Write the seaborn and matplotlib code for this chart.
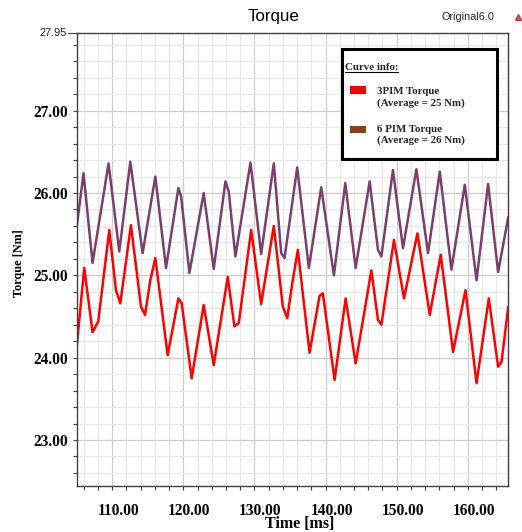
import numpy as np
import matplotlib
matplotlib.use("Agg")
import matplotlib.pyplot as plt
import matplotlib.transforms as mtransforms
from matplotlib.patches import Rectangle
from matplotlib.lines import Line2D
from matplotlib.ticker import MultipleLocator
import seaborn as sns

# --- data -----------------------------------------------------------------
time_3pim = [105.0, 106.06, 107.23, 108.03, 109.58, 110.52, 111.13, 112.63, 114.04,
             114.61, 115.35, 116.06, 117.79, 119.30, 119.76, 121.17, 122.86, 124.27,
             126.24, 127.18, 127.79, 129.54, 130.94, 132.72, 133.99, 134.61, 135.31,
             136.10, 137.75, 139.15, 139.62, 141.27, 142.82, 144.23, 146.44, 147.37,
             147.85, 149.62, 151.03, 152.92, 154.65, 156.20, 157.93, 159.68, 161.23,
             162.96, 164.27, 164.75, 165.7]
torque_3pim = [24.13, 25.09, 24.31, 24.44, 25.55, 24.82, 24.66, 25.61, 24.62,
               24.52, 24.94, 25.21, 24.03, 24.72, 24.66, 23.75, 24.64, 23.91,
               24.98, 24.38, 24.42, 25.55, 24.65, 25.60, 24.62, 24.48, 24.90,
               25.31, 24.06, 24.75, 24.78, 23.73, 24.72, 23.93, 25.06, 24.46,
               24.40, 25.43, 24.72, 25.51, 24.52, 25.25, 24.07, 24.82, 23.69,
               24.72, 23.89, 23.95, 24.62]

time_6pim = [105.0, 105.96, 107.23, 109.48, 110.99, 112.54, 114.27, 116.06, 117.56,
             119.30, 119.68, 120.85, 122.86, 124.27, 125.92, 126.38, 127.32, 129.44,
             130.94, 132.72, 133.76, 134.23, 136.01, 137.65, 139.39, 141.17, 142.77,
             144.23, 146.20, 147.37, 147.85, 149.48, 150.89, 152.77, 154.41, 156.06,
             157.70, 159.58, 161.23, 162.86, 164.27, 165.7]
torque_6pim = [25.59, 26.24, 25.15, 26.36, 25.29, 26.38, 25.27, 26.20, 25.09,
               26.06, 25.96, 25.03, 26.00, 25.08, 26.14, 26.02, 25.23, 26.37,
               25.26, 26.36, 25.27, 25.21, 26.31, 25.09, 26.07, 25.00, 26.12,
               25.09, 26.14, 25.31, 25.23, 26.28, 25.33, 26.29, 25.27, 26.26,
               25.07, 26.10, 24.94, 26.11, 25.04, 25.71]

x_ticks = [110, 120, 130, 140, 150, 160]
x_tick_labels = ["110.00", "120.00", "130.00", "140.00", "150.00", "160.00"]
y_ticks = [23, 24, 25, 26, 27]
y_tick_labels = ["23.00", "24.00", "25.00", "26.00", "27.00"]
y_top = 27.95
y_top_label = "27.95"

curve_names = ["3PIM Torque", "6 PIM Torque"]
curve_notes = ["(Average = 25 Nm)", "(Average = 26 Nm)"]

# --- style ----------------------------------------------------------------
sns.set_theme(style="white")
plt.rcParams["font.family"] = ["Liberation Serif", "DejaVu Serif"]

RED = "#FF0000"
PLUM = "#7B3F6E"
BROWN = "#8B3E17"
SPINE = "#404040"

W, H = 522, 532
fig = plt.figure(figsize=(W / 100, H / 100), dpi=100)


def fx(px):
    return px / W


def fy(py):
    return 1 - py / H


ax_l, ax_r, ax_t, ax_b = 76.7, 508.3, 32.5, 485.7
ax = fig.add_axes([fx(ax_l), fy(ax_b), (ax_r - ax_l) / W, (ax_b - ax_t) / H])

line_kw = dict(lw=1.8, ax=ax, sort=False, estimator=None, legend=False,
               solid_joinstyle="round", solid_capstyle="round")
sns.lineplot(x=time_3pim, y=torque_3pim, color=RED, **line_kw)
sns.lineplot(x=time_6pim, y=torque_6pim, color=PLUM, **line_kw)

ax.set_xlim(105.0, 165.7)
ax.set_ylim(22.445, y_top)

ax.set_xticks(x_ticks)
ax.set_xticklabels(x_tick_labels)
ax.set_yticks(y_ticks)
ax.set_yticklabels(y_tick_labels)
ax.xaxis.set_minor_locator(MultipleLocator(2))
ax.yaxis.set_minor_locator(MultipleLocator(0.2))

ax.grid(which="minor", color="#E8E8E8", lw=0.8)
ax.grid(which="major", color="#CDCDCD", lw=0.9)
ax.set_axisbelow(True)

for s in ax.spines.values():
    s.set_color(SPINE)
    s.set_linewidth(1.0)

ax.tick_params(which="both", bottom=True, left=True, top=False, right=False,
               direction="out", length=2.6, width=0.8, color=SPINE)
ax.tick_params(axis="x", which="major", pad=9.5, labelsize=11.2)
ax.tick_params(axis="y", which="major", pad=3.9, labelsize=11.2)
for lbl in ax.get_xticklabels() + ax.get_yticklabels():
    lbl.set_fontweight("bold")
    lbl.set_color("black")

shift = mtransforms.ScaledTranslation(6 / 100, 0, fig.dpi_scale_trans)
for lbl in ax.get_xticklabels():
    lbl.set_transform(lbl.get_transform() + shift)

# top-of-range marker label
ytr = ax.get_yaxis_transform()
ax.add_line(Line2D([(68 - ax_l) / (ax_r - ax_l), 0], [y_top, y_top], transform=ytr,
                   color=SPINE, lw=0.8, clip_on=False))
ax.text((66.7 - ax_l) / (ax_r - ax_l), y_top, y_top_label, transform=ytr,
        ha="right", va="center", fontsize=7.9, family="Liberation Sans", color="#222222")

# axis labels
ax.set_xlabel("Time [ms]", fontsize=11.5, fontweight="bold", color="black")
ax.xaxis.label.set_va("center")
ax.xaxis.set_label_coords((300 - ax_l) / (ax_r - ax_l), (ax_b - 524) / (ax_b - ax_t))
ax.set_ylabel("Torque [Nm]", fontsize=8.8, fontweight="bold", color="black")
ax.yaxis.label.set_va("center")
ax.yaxis.set_label_coords((19 - ax_l) / (ax_r - ax_l), (ax_b - 263.5) / (ax_b - ax_t))

# header
fig.text(fx(274), fy(17), "Torque", ha="center", va="center", fontsize=12.2,
         family="Liberation Sans", color="black")
fig.text(fx(441.7), fy(17), "Original6.0", ha="left", va="center", fontsize=7.8,
         family="Liberation Sans", color="#222222")
fig.add_artist(Line2D([fx(518)], [fy(16.5)], marker="^", ms=4, color="#D9534F",
                      mec="#C04040", transform=fig.transFigure))

# curve info box
box = Rectangle((fx(342.3), fy(159.3)), (496.7 - 342.3) / W, (159.3 - 49) / H,
                transform=fig.transFigure, facecolor="white", edgecolor="black",
                lw=2.2, zorder=10)
fig.add_artist(box)
fig.text(fx(345), fy(67.2), "Curve info:", ha="left", va="center", fontsize=7.8,
         fontweight="bold", zorder=11)
fig.add_artist(Line2D([fx(345), fx(398)], [fy(71.8), fy(71.8)], color="black", lw=0.8,
                      transform=fig.transFigure, zorder=11))

swatch_rows = [(86.5, 94.0), (126.0, 133.0)]
name_rows = [91.7, 129.3]
note_rows = [103.3, 140.0]
for (top, bot), ny, my, name, note, col in zip(swatch_rows, name_rows, note_rows,
                                               curve_names, curve_notes, [RED, BROWN]):
    fig.add_artist(Rectangle((fx(350), fy(bot)), 16 / W, (bot - top) / H,
                             transform=fig.transFigure, facecolor=col, edgecolor="none",
                             zorder=11))
    fig.text(fx(376.7), fy(ny), name, ha="left", va="center", fontsize=7.8,
             fontweight="bold", zorder=11)
    fig.text(fx(376.7), fy(my), note, ha="left", va="center", fontsize=7.8,
             fontweight="bold", zorder=11)

fig.savefig("out.png", dpi=100)
